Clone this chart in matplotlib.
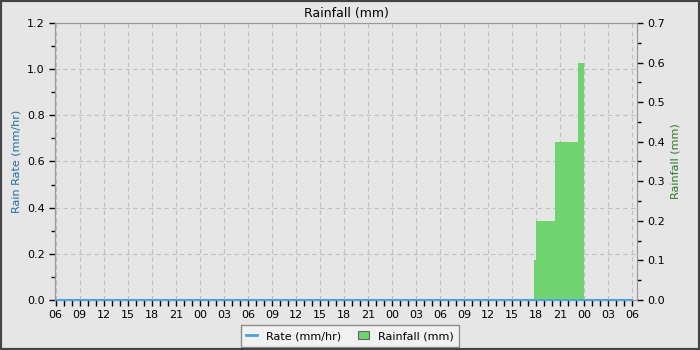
import matplotlib
matplotlib.use("Agg")
import matplotlib.pyplot as plt
import matplotlib.dates as mdates
from matplotlib.patches import Rectangle
from matplotlib.lines import Line2D
import numpy as np
import pandas as pd

# ---- data ----
rate_times = ["2024-01-01 06:00", "2024-01-04 06:00"]
rate_values = [0.0, 0.0]

rain_times = ["2024-01-03 17:45", "2024-01-03 18:00", "2024-01-03 20:20",
              "2024-01-03 23:15", "2024-01-04 00:00"]
rain_values = [0.1, 0.2, 0.4, 0.6, 0.0]

x_start = "2024-01-01 05:55"
x_end = "2024-01-04 06:35"

bg = "#e6e6e6"
rt = pd.to_datetime(rate_times)
rn = pd.to_datetime(rain_times)

fig = plt.figure(figsize=(7, 3.5), dpi=100, facecolor=bg)
ax = fig.add_axes([55/700, 50/350, (637-55)/700, (300-23)/350])
ax.set_facecolor(bg)
ax2 = ax.twinx()
ax2.patch.set_visible(False)

# rainfall cumulative fill (right axis)
ax2.fill_between(rn, rain_values, step="post", color="#6fd46f", linewidth=0, zorder=2)
# rate line (left axis scale), drawn on top
ax2.plot(rt, rate_values, color="#4aa3df", linewidth=1.5, zorder=5, clip_on=False,
         transform=ax.transData)

ax.set_xlim(pd.Timestamp(x_start), pd.Timestamp(x_end))
ax.set_ylim(0, 1.2)
ax2.set_ylim(0, 0.7)

ax.xaxis.set_major_locator(mdates.HourLocator(byhour=range(0, 24, 3)))
ax.xaxis.set_minor_locator(mdates.HourLocator())
ax.xaxis.set_major_formatter(mdates.DateFormatter("%H"))
ax.set_yticks(np.arange(0, 1.21, 0.2))
ax.set_yticks(np.arange(0.1, 1.2, 0.2), minor=True)
ax2.set_yticks(np.arange(0, 0.71, 0.1))
ax2.set_yticks(np.arange(0.05, 0.7, 0.1), minor=True)
ax.yaxis.set_major_formatter(matplotlib.ticker.FormatStrFormatter("%.1f"))
ax2.yaxis.set_major_formatter(matplotlib.ticker.FormatStrFormatter("%.1f"))

for a in (ax, ax2):
    a.tick_params(which="both", labelsize=8, colors="#000000", length=4, width=1,
                  direction="out")
    a.tick_params(which="minor", length=3)
    for s in a.spines.values():
        s.set_color("#999999")
ax.tick_params(axis="x", which="both", length=4)

ax.set_axisbelow(True)
ax.grid(True, which="major", color="#c0c0c0", linestyle=(0, (4, 3)), linewidth=0.8)

ax.set_ylabel("Rain Rate (mm/hr)", color="#1f6fa0", fontsize=8)
ax2.set_ylabel("Rainfall (mm)", color="#2a7a2a", fontsize=8)
ax.set_title("Rainfall (mm)", fontsize=9, pad=4)

handles = [Line2D([0], [0], color="#4aa3df", lw=2),
           Rectangle((0, 0), 1, 1, facecolor="#6fd46f", edgecolor="#666666", lw=0.8)]
leg = fig.legend(handles, ["Rate (mm/hr)", "Rainfall (mm)"], loc="center",
                 bbox_to_anchor=(350/700, 1 - 336/350), ncol=2, fontsize=8,
                 frameon=True, fancybox=False, handlelength=1.0, handleheight=0.8,
                 columnspacing=1.5, borderpad=0.5)
leg.get_frame().set_edgecolor("#777777")
leg.get_frame().set_facecolor("#f4f4f4")
leg.get_frame().set_linewidth(1)

fig.patches.append(Rectangle((0, 0), 1, 1, transform=fig.transFigure, fill=False,
                             edgecolor="#444444", linewidth=3, zorder=10))

fig.savefig("out.png", dpi=100, facecolor=bg)
